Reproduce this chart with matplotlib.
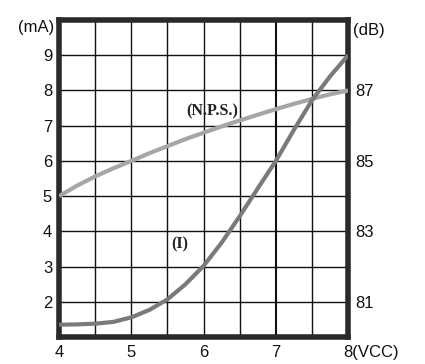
import matplotlib
matplotlib.use("Agg")
import matplotlib.pyplot as plt
import numpy as np

vcc = [4, 4.25, 4.5, 4.75, 5, 5.25, 5.5, 5.75, 6, 6.25, 6.5, 6.75, 7, 7.25, 7.5, 7.75, 8]
current_ma = [1.35, 1.36, 1.38, 1.43, 1.56, 1.77, 2.07, 2.5, 3.02, 3.68, 4.43, 5.22, 6.0, 6.88, 7.72, 8.4, 9.0]
nps_vcc = [4, 4.25, 4.5, 4.75, 5, 5.25, 5.5, 5.75, 6, 6.25, 6.5, 6.75, 7, 7.25, 7.5, 7.75, 8]
nps_ma = [5.0, 5.3, 5.56, 5.79, 6.0, 6.22, 6.42, 6.62, 6.8, 6.98, 7.15, 7.31, 7.47, 7.62, 7.76, 7.89, 8.0]  # dB = mA + 79

x_ticks = [4, 5, 6, 7, 8]
x_labels = ["4", "5", "6", "7", ""]
y_ticks = [2, 3, 4, 5, 6, 7, 8, 9]
db_ticks = [81, 83, 85, 87]

plt.rcParams['font.family'] = ['Liberation Sans', 'DejaVu Sans']
FS = 12

fig = plt.figure(figsize=(4.25, 3.64), dpi=100)
ax = fig.add_axes([0.139, 0.074, 0.680, 0.871])

ax.set_xlim(4, 8)
ax.set_ylim(1, 10)

for xv in np.arange(4.5, 8, 0.5):
    ax.axvline(xv, color='#111111', lw=1.5 if xv == 7 else 1.0, zorder=1)
for yv in range(2, 10):
    ax.axhline(yv, color='#111111', lw=1.0, zorder=1)

ax.plot(nps_vcc, nps_ma, color='#a6a6a6', lw=3.0, zorder=3, solid_capstyle='butt')
ax.plot(vcc, current_ma, color='#7a7a7a', lw=3.0, zorder=3, solid_capstyle='butt')

ax.text(6.12, 7.42, "(N.P.S.)", family=['Liberation Serif'], fontweight='bold',
        fontsize=11.5, ha='center', va='center', color='#222222', zorder=4)
ax.text(5.67, 3.62, "(I)", family=['Liberation Serif'], fontweight='bold',
        fontsize=11.5, ha='center', va='center', color='#222222', zorder=4)

for s in ax.spines.values():
    s.set_linewidth(4)
    s.set_color('#2a2a2a')

ax.set_xticks(x_ticks)
ax.set_xticklabels(x_labels)
ax.set_yticks(y_ticks)
ax.tick_params(length=0, labelsize=FS, pad=5, colors='#111111')
ax.tick_params(axis='x', pad=6)

ax.text(-0.018, 9.8, "(mA)", transform=ax.get_yaxis_transform(), ha='right', va='center',
        fontsize=FS, color='#111111')
ax.annotate("8(VCC)", xy=(8.0, 0), xycoords=ax.get_xaxis_transform(),
            xytext=(-3.2, -6), textcoords='offset points', ha='left', va='top',
            fontsize=FS, color='#111111')

ax2 = ax.twinx()
ax2.set_ylim(80, 89)
ax2.set_yticks(db_ticks)
ax2.tick_params(length=0, labelsize=FS, pad=5, colors='#111111')
for s in ax2.spines.values():
    s.set_visible(False)
ax2.text(1.018, 88.7, "(dB)", transform=ax2.get_yaxis_transform(), ha='left', va='center',
         fontsize=FS, color='#111111')

fig.savefig("out.png", dpi=100)
